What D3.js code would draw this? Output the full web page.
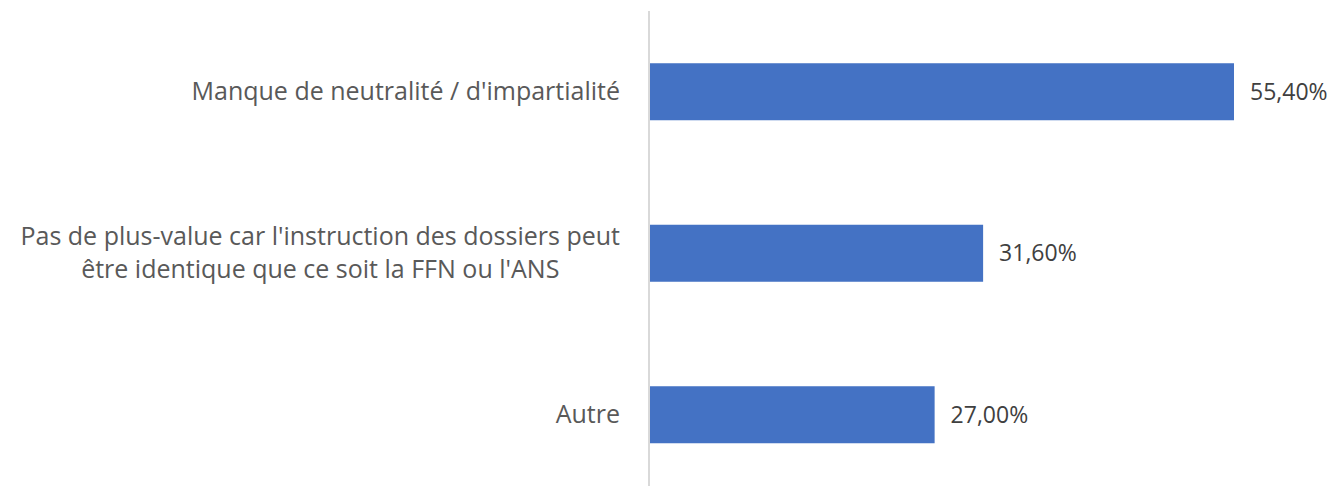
<!DOCTYPE html>
<html>
<head>
<meta charset="utf-8">
<script src="https://cdn.jsdelivr.net/npm/d3@7"></script>
<style>
  body { margin: 0; background: #fff; }
  svg { display: block; font-family: "Open Sans", sans-serif; }
</style>
</head>
<body>
<div id="chart"></div>
<script>
// Chart data
const categories = [
  "Manque de neutralité / d'impartialité",
  "Pas de plus-value car l'instruction des dossiers peut être identique que ce soit la FFN ou l'ANS",
  "Autre"
];
const values = [55.4, 31.6, 27.0];

// Dimensions
const width = 1335;
const height = 486;
const axisX = 650;
const labelSize = 25;
const valueSize = 23;

const svg = d3.select("#chart")
  .append("svg")
    .attr("width", width)
    .attr("height", height);

// Scales
const x = d3.scaleLinear().domain([0, 55.4]).range([axisX, 1234]);
const y = d3.scaleBand()
  .domain(categories)
  .range([11, 495.5])
  .paddingInner(0.647)
  .paddingOuter(0.3235);

const data = categories.map((c, i) => ({ label: c, value: values[i] }));

// Bars
svg.selectAll("rect.bar")
  .data(data)
  .enter()
  .append("rect")
    .attr("class", "bar")
    .attr("x", x(0))
    .attr("y", d => y(d.label))
    .attr("width", d => x(d.value) - x(0))
    .attr("height", y.bandwidth())
    .style("fill", "#4472c4");

// Value labels
const fmt = v => v.toFixed(2).replace(".", ",") + "%";
svg.selectAll("text.value")
  .data(data)
  .enter()
  .append("text")
    .attr("class", "value")
    .attr("x", d => x(d.value) + 16)
    .attr("y", d => y(d.label) + y.bandwidth() / 2)
    .attr("dy", "0.35em")
    .style("font-size", valueSize + "px")
    .style("fill", "#404040")
    .text(d => fmt(d.value));

// Category axis
const yAxis = svg.append("g")
  .attr("class", "y-axis")
  .attr("transform", `translate(${axisX - 1},0)`)
  .call(d3.axisLeft(y).tickSize(0).tickPadding(29))
  .attr("font-family", null)
  .attr("font-size", null);

yAxis.select(".domain")
  .attr("d", `M0,11V${height}`)
  .style("stroke", "#d9d9d9")
  .style("stroke-width", 2);

yAxis.selectAll("text")
  .style("font-size", labelSize + "px")
  .style("fill", "#595959")
  .call(wrap, 630);

// Wrap long labels into centered lines, block right-aligned to the axis
function wrap(texts, maxWidth) {
  texts.each(function() {
    const text = d3.select(this);
    const words = text.text().split(/\s+/);
    const lineHeight = 33;
    const xPos = +text.attr("x");
    text.text(null);
    const lines = [];
    let line = [];
    const probe = text.append("tspan");
    words.forEach(w => {
      line.push(w);
      probe.text(line.join(" "));
      if (probe.node().getComputedTextLength() > maxWidth && line.length > 1) {
        line.pop();
        lines.push(line.join(" "));
        line = [w];
      }
    });
    lines.push(line.join(" "));
    probe.remove();
    if (lines.length === 1) {
      text.text(lines[0]);
      return;
    }
    const widths = lines.map(l => {
      const t = text.append("tspan").text(l);
      const w = t.node().getComputedTextLength();
      t.remove();
      return w;
    });
    const blockW = d3.max(widths);
    const cx = xPos - blockW / 2;
    text.attr("text-anchor", "middle");
    lines.forEach((l, i) => {
      text.append("tspan")
        .attr("x", cx)
        .attr("y", 0)
        .attr("dy", `${0.32 + (i - (lines.length - 1) / 2) * lineHeight / labelSize}em`)
        .text(l);
    });
  });
}
</script>
</body>
</html>
